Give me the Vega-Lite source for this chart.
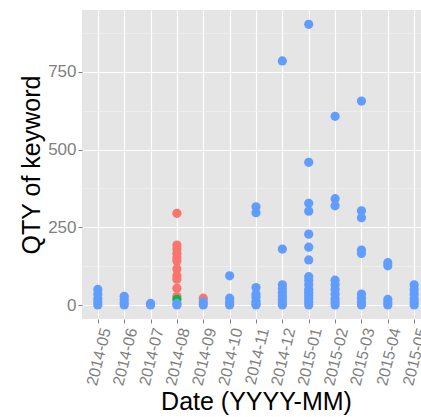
{
  "$schema": "https://vega.github.io/schema/vega-lite/v6.json",
  "width": 348,
  "height": 309,
  "autosize": {"type": "none"},
  "padding": {"left": 82, "top": 10, "right": 0, "bottom": 98},
  "background": "white",
  "config": {
    "view": {"fill": "#E5E5E5", "stroke": null},
    "font": "Liberation Sans"
  },
  "data": {
    "values": [
      {"d": "2014-08", "q": 295, "g": "a"},
      {"d": "2014-08", "q": 193, "g": "a"},
      {"d": "2014-08", "q": 180, "g": "a"},
      {"d": "2014-08", "q": 166, "g": "a"},
      {"d": "2014-08", "q": 152, "g": "a"},
      {"d": "2014-08", "q": 142, "g": "a"},
      {"d": "2014-08", "q": 116, "g": "a"},
      {"d": "2014-08", "q": 94, "g": "a"},
      {"d": "2014-08", "q": 83, "g": "a"},
      {"d": "2014-08", "q": 54, "g": "a"},
      {"d": "2014-08", "q": 27, "g": "a"},
      {"d": "2014-09", "q": 22, "g": "a"},
      {"d": "2014-08", "q": 18, "g": "b"},
      {"d": "2014-05", "q": 50, "g": "c"},
      {"d": "2014-05", "q": 35, "g": "c"},
      {"d": "2014-05", "q": 20, "g": "c"},
      {"d": "2014-05", "q": 10, "g": "c"},
      {"d": "2014-05", "q": 0, "g": "c"},
      {"d": "2014-06", "q": 28, "g": "c"},
      {"d": "2014-06", "q": 18, "g": "c"},
      {"d": "2014-06", "q": 8, "g": "c"},
      {"d": "2014-06", "q": 0, "g": "c"},
      {"d": "2014-07", "q": 5, "g": "c"},
      {"d": "2014-07", "q": 0, "g": "c"},
      {"d": "2014-08", "q": 5, "g": "c"},
      {"d": "2014-08", "q": 0, "g": "c"},
      {"d": "2014-09", "q": 10, "g": "c"},
      {"d": "2014-09", "q": 0, "g": "c"},
      {"d": "2014-10", "q": 94, "g": "c"},
      {"d": "2014-10", "q": 22, "g": "c"},
      {"d": "2014-10", "q": 10, "g": "c"},
      {"d": "2014-10", "q": 0, "g": "c"},
      {"d": "2014-11", "q": 316, "g": "c"},
      {"d": "2014-11", "q": 297, "g": "c"},
      {"d": "2014-11", "q": 56, "g": "c"},
      {"d": "2014-11", "q": 35, "g": "c"},
      {"d": "2014-11", "q": 25, "g": "c"},
      {"d": "2014-11", "q": 12, "g": "c"},
      {"d": "2014-11", "q": 3, "g": "c"},
      {"d": "2014-11", "q": 0, "g": "c"},
      {"d": "2014-12", "q": 785, "g": "c"},
      {"d": "2014-12", "q": 180, "g": "c"},
      {"d": "2014-12", "q": 65, "g": "c"},
      {"d": "2014-12", "q": 52, "g": "c"},
      {"d": "2014-12", "q": 40, "g": "c"},
      {"d": "2014-12", "q": 28, "g": "c"},
      {"d": "2014-12", "q": 18, "g": "c"},
      {"d": "2014-12", "q": 8, "g": "c"},
      {"d": "2014-12", "q": 0, "g": "c"},
      {"d": "2015-01", "q": 903, "g": "c"},
      {"d": "2015-01", "q": 459, "g": "c"},
      {"d": "2015-01", "q": 327, "g": "c"},
      {"d": "2015-01", "q": 302, "g": "c"},
      {"d": "2015-01", "q": 228, "g": "c"},
      {"d": "2015-01", "q": 186, "g": "c"},
      {"d": "2015-01", "q": 145, "g": "c"},
      {"d": "2015-01", "q": 91, "g": "c"},
      {"d": "2015-01", "q": 80, "g": "c"},
      {"d": "2015-01", "q": 65, "g": "c"},
      {"d": "2015-01", "q": 50, "g": "c"},
      {"d": "2015-01", "q": 40, "g": "c"},
      {"d": "2015-01", "q": 30, "g": "c"},
      {"d": "2015-01", "q": 20, "g": "c"},
      {"d": "2015-01", "q": 10, "g": "c"},
      {"d": "2015-01", "q": 0, "g": "c"},
      {"d": "2015-02", "q": 607, "g": "c"},
      {"d": "2015-02", "q": 342, "g": "c"},
      {"d": "2015-02", "q": 319, "g": "c"},
      {"d": "2015-02", "q": 80, "g": "c"},
      {"d": "2015-02", "q": 65, "g": "c"},
      {"d": "2015-02", "q": 50, "g": "c"},
      {"d": "2015-02", "q": 35, "g": "c"},
      {"d": "2015-02", "q": 20, "g": "c"},
      {"d": "2015-02", "q": 10, "g": "c"},
      {"d": "2015-02", "q": 0, "g": "c"},
      {"d": "2015-03", "q": 656, "g": "c"},
      {"d": "2015-03", "q": 303, "g": "c"},
      {"d": "2015-03", "q": 281, "g": "c"},
      {"d": "2015-03", "q": 177, "g": "c"},
      {"d": "2015-03", "q": 166, "g": "c"},
      {"d": "2015-03", "q": 35, "g": "c"},
      {"d": "2015-03", "q": 22, "g": "c"},
      {"d": "2015-03", "q": 10, "g": "c"},
      {"d": "2015-03", "q": 0, "g": "c"},
      {"d": "2015-04", "q": 136, "g": "c"},
      {"d": "2015-04", "q": 126, "g": "c"},
      {"d": "2015-04", "q": 18, "g": "c"},
      {"d": "2015-04", "q": 8, "g": "c"},
      {"d": "2015-04", "q": 0, "g": "c"},
      {"d": "2015-05", "q": 65, "g": "c"},
      {"d": "2015-05", "q": 50, "g": "c"},
      {"d": "2015-05", "q": 35, "g": "c"},
      {"d": "2015-05", "q": 20, "g": "c"},
      {"d": "2015-05", "q": 10, "g": "c"},
      {"d": "2015-05", "q": 0, "g": "c"}
    ]
  },
  "mark": {"type": "point", "filled": true, "size": 85, "opacity": 1},
  "encoding": {
    "x": {
      "field": "d",
      "type": "ordinal",
      "scale": {
        "type": "point",
        "padding": 0.6,
        "domain": ["2014-05", "2014-06", "2014-07", "2014-08", "2014-09", "2014-10", "2014-11", "2014-12", "2015-01", "2015-02", "2015-03", "2015-04", "2015-05"]
      },
      "axis": {
        "title": "Date (YYYY-MM)",
        "titleFontSize": 25,
        "titleFontWeight": "normal",
        "titleColor": "#000000",
        "titlePadding": 3,
        "grid": true,
        "gridColor": "#FFFFFF",
        "gridWidth": 1.2,
        "domain": false,
        "tickColor": "#7F7F7F",
        "tickSize": 4,
        "labelAngle": -76,
        "labelAlign": "right",
        "labelBaseline": "top",
        "labelFontSize": 16,
        "labelColor": "#7F7F7F",
        "labelPadding": 3
      }
    },
    "y": {
      "field": "q",
      "type": "quantitative",
      "scale": {"domain": [-45, 949], "nice": false, "zero": false},
      "axis": {
        "title": "QTY of keyword",
        "titleFontSize": 25,
        "titleFontWeight": "normal",
        "titleColor": "#000000",
        "titlePadding": 3,
        "values": [0, 125, 250, 375, 500, 625, 750, 875],
        "labelExpr": "datum.value % 250 === 0 ? datum.label : ''",
        "grid": true,
        "gridColor": {"condition": {"test": "datum.value % 250 === 0", "value": "#FFFFFF"}, "value": "#F2F2F2"},
        "gridWidth": {"condition": {"test": "datum.value % 250 === 0", "value": 1.2}, "value": 0.6},
        "tickOpacity": {"condition": {"test": "datum.value % 250 === 0", "value": 1}, "value": 0},
        "domain": false,
        "tickColor": "#7F7F7F",
        "tickSize": 4,
        "labelFontSize": 17,
        "labelColor": "#7F7F7F",
        "labelPadding": 2
      }
    },
    "color": {
      "field": "g",
      "type": "nominal",
      "scale": {"domain": ["a", "b", "c"], "range": ["#F8766D", "#00BA38", "#619CFF"]},
      "legend": null
    }
  }
}
